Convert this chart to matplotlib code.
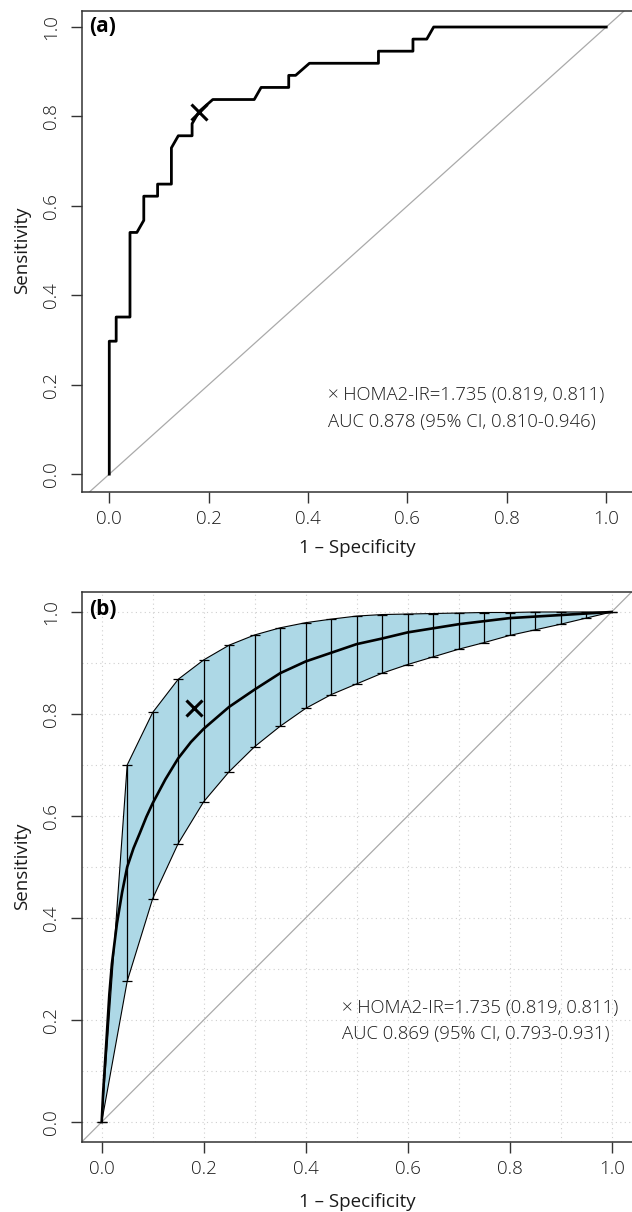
import matplotlib
matplotlib.use("Agg")
import matplotlib.pyplot as plt
import numpy as np

plt.rcParams['font.family'] = ['Open Sans', 'DejaVu Sans']
plt.rcParams['font.weight'] = 'light'

# ---- panel (a): empirical ROC (1 - specificity, sensitivity) ----
roc_fpr = [0, 0, 1/72, 1/72, 3/72, 3/72, 4/72, 5/72, 5/72, 7/72, 7/72, 9/72, 9/72,
           10/72, 12/72, 12/72, 13/72, 15/72, 21/72, 22/72, 26/72, 26/72, 27/72,
           29/72, 39/72, 39/72, 44/72, 44/72, 46/72, 47/72, 1.0]
roc_tpr = [0, 11/37, 11/37, 13/37, 13/37, 20/37, 20/37, 21/37, 23/37, 23/37, 24/37,
           24/37, 27/37, 28/37, 28/37, 29/37, 30/37, 31/37, 31/37, 32/37, 32/37,
           33/37, 33/37, 34/37, 34/37, 35/37, 35/37, 36/37, 36/37, 1.0, 1.0]

# ---- panel (b): smoothed ROC with confidence band ----
smooth_fpr = [0, 0.003, 0.0065, 0.01, 0.015, 0.02, 0.03, 0.04, 0.05, 0.0625, 0.075,
              0.0875, 0.1, 0.125, 0.15, 0.175, 0.2, 0.25, 0.3, 0.35, 0.4, 0.45, 0.5,
              0.55, 0.6, 0.65, 0.7, 0.75, 0.8, 0.85, 0.9, 0.95, 1.0]
smooth_tpr = [0, 0.06, 0.115, 0.17, 0.25, 0.31, 0.39, 0.45, 0.50, 0.537, 0.567,
              0.598, 0.625, 0.672, 0.713, 0.745, 0.771, 0.814, 0.848, 0.880, 0.903,
              0.920, 0.937, 0.948, 0.960, 0.968, 0.976, 0.982, 0.988, 0.991, 0.994,
              0.997, 1.0]

ci_fpr = [0, 0.05, 0.1, 0.15, 0.2, 0.25, 0.3, 0.35, 0.4, 0.45, 0.5, 0.55, 0.6,
          0.65, 0.7, 0.75, 0.8, 0.85, 0.9, 0.95, 1.0]
ci_upper = [0, 0.700, 0.803, 0.868, 0.906, 0.935, 0.955, 0.969, 0.979, 0.986, 0.992,
            0.995, 0.996, 0.997, 0.998, 0.999, 0.999, 1.0, 1.0, 1.0, 1.0]
ci_lower = [0, 0.276, 0.438, 0.546, 0.628, 0.687, 0.736, 0.776, 0.811, 0.838, 0.859,
            0.880, 0.897, 0.912, 0.927, 0.940, 0.954, 0.965, 0.976, 0.988, 1.0]

cut_fpr = 1 - 0.819
cut_tpr = 0.811

ticks = [0.0, 0.2, 0.4, 0.6, 0.8, 1.0]
tick_labels = ["0.0", "0.2", "0.4", "0.6", "0.8", "1.0"]
text_a = ["\u00d7 HOMA2-IR=1.735 (0.819, 0.811)", "AUC 0.878 (95% CI, 0.810-0.946)"]
text_b = ["\u00d7 HOMA2-IR=1.735 (0.819, 0.811)", "AUC 0.869 (95% CI, 0.793-0.931)"]

W, H = 632, 1212
fig = plt.figure(figsize=(W / 100, H / 100), dpi=100)
txt = '#1a1a1a'


def px_axes(left, top, right, bottom):
    return fig.add_axes([left / W, 1 - bottom / H, (right - left) / W, (bottom - top) / H])


def style(ax, lab):
    for s in ['top', 'left', 'bottom']:
        ax.spines[s].set_color('#333333')
        ax.spines[s].set_linewidth(1.1)
    ax.spines['right'].set_visible(False)
    ax.set_xticks(ticks)
    ax.set_xticklabels(tick_labels)
    ax.set_yticks(ticks)
    ax.set_yticklabels(tick_labels, rotation=90, va='center')
    ax.tick_params(direction='out', length=8, width=1.0, color='#333333',
                   labelsize=13.5, labelcolor=txt)
    ax.tick_params(axis='x', pad=5)
    ax.tick_params(axis='y', pad=7.5)
    ax.set_xlabel("1 \u2013 Specificity", fontsize=13.5, color=txt, va='center')
    ax.set_ylabel("Sensitivity", fontsize=13.5, color=txt, va='center')
    ax.text(0.014, 0.988, lab, transform=ax.transAxes, fontsize=15,
            fontweight='bold', ha='left', va='top')
    ax.axline((0, 0), slope=1, color='#aaaaaa', lw=0.9, zorder=1)


# panel (a)
ax1 = px_axes(81.7, 10.7, 640, 492)
ax1.set_xlim(-0.0555, 1.068)
ax1.set_ylim(-0.040, 1.0365)
style(ax1, "(a)")
ax1.xaxis.set_label_coords(0.493, -0.1164)
ax1.yaxis.set_label_coords(-0.107, 0.503)
ax1.plot(roc_fpr, roc_tpr, color='black', lw=2.0, zorder=3)
ax1.plot(cut_fpr, cut_tpr, marker='x', color='black', ms=11.5, mew=2.2, zorder=4)
ax1.text(0.44, 0.177, text_a[0], fontsize=13.3, color=txt, ha='left', va='center')
ax1.text(0.44, 0.116, text_a[1], fontsize=13.3, color=txt, ha='left', va='center')

# panel (b)
ax2 = px_axes(81.7, 592, 640, 1142)
ax2.set_xlim(-0.0392, 1.0557)
ax2.set_ylim(-0.0392, 1.0392)
style(ax2, "(b)")
ax2.xaxis.set_label_coords(0.493, -0.109)
ax2.yaxis.set_label_coords(-0.107, 0.502)
grid = np.arange(0, 1.01, 0.1)
for g in grid:
    ax2.axvline(g, color='#cfcfcf', lw=0.8, ls=(0, (1, 3)), zorder=0)
    ax2.axhline(g, color='#cfcfcf', lw=0.8, ls=(0, (1, 3)), zorder=0)
ax2.fill_between(ci_fpr, ci_lower, ci_upper, facecolor='#add8e6', edgecolor='none', zorder=1.5)
ax2.plot(ci_fpr, ci_upper, color='black', lw=0.8, zorder=2)
ax2.plot(ci_fpr, ci_lower, color='black', lw=0.8, zorder=2)
mid = [(u + l) / 2 for u, l in zip(ci_upper, ci_lower)]
half = [(u - l) / 2 for u, l in zip(ci_upper, ci_lower)]
ax2.errorbar(ci_fpr, mid, yerr=half, fmt='none', ecolor='black', elinewidth=0.9,
             capsize=3.6, capthick=0.9, zorder=2.5)
ax2.plot(smooth_fpr, smooth_tpr, color='black', lw=1.9, zorder=3)
ax2.plot(cut_fpr, cut_tpr, marker='x', color='black', ms=11.5, mew=2.2, zorder=4)
ax2.text(0.471, 0.224, text_b[0], fontsize=13.3, color=txt, ha='left', va='center')
ax2.text(0.471, 0.173, text_b[1], fontsize=13.3, color=txt, ha='left', va='center')

fig.savefig("out.png", dpi=100)
